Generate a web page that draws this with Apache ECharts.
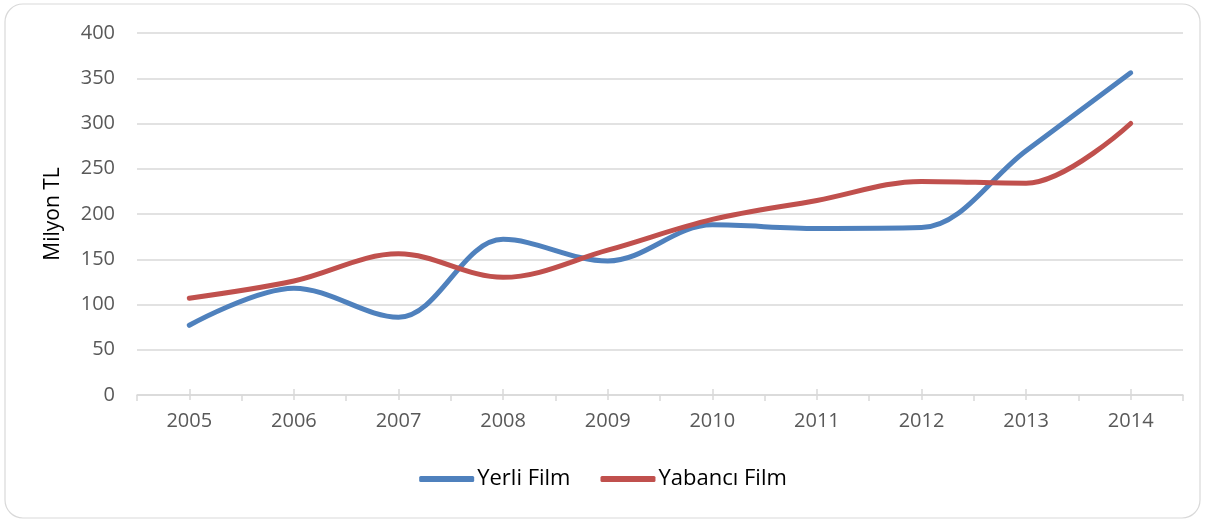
<html>
<head>
    <meta charset="utf-8" />
    <script src="https://cdn.jsdelivr.net/npm/echarts@6/dist/echarts.min.js"></script>
    <title>Yerli ve Yabancı Film</title>
    <style>
        body { margin: 0; background: #fff; }
        #chart { width: 1206px; height: 521px; }
    </style>
</head>
<body>
    <div id="chart"></div>
    <script type="text/javascript">
        var years = ['2005', '2006', '2007', '2008', '2009', '2010', '2011', '2012', '2013', '2014'];
        var yerliFilm = [77, 118, 86, 172, 148, 188, 184, 185, 270, 356];
        var yabanciFilm = [107, 126, 156, 130, 160, 194, 215, 236, 234, 300];
        var yTicks = [0, 50, 100, 150, 200, 250, 300, 350, 400];

        var font = '"Open Sans", "Liberation Sans", sans-serif';
        var chart = echarts.init(document.getElementById('chart'));
        var option = {
            textStyle: { fontFamily: font },
            graphic: [{
                type: 'rect',
                shape: { x: 5, y: 4, width: 1195, height: 514, r: 18 },
                style: { fill: 'none', stroke: '#d9d9d9', lineWidth: 1.2 },
                silent: true
            }],
            grid: { left: 137, right: 23, top: 33, bottom: 126 },
            legend: {
                bottom: 26,
                left: 'center',
                icon: 'roundRect',
                itemWidth: 55,
                itemHeight: 6,
                itemGap: 30,
                textStyle: { fontSize: 22, color: '#000', fontFamily: font, padding: [0, 0, 0, -2] },
                data: ['Yerli Film', 'Yabancı Film']
            },
            xAxis: [{
                type: 'category',
                data: years,
                boundaryGap: true,
                axisLine: { lineStyle: { color: '#d9d9d9', width: 1.5 } },
                axisTick: { show: true, interval: 0, length: 6, lineStyle: { color: '#d9d9d9', width: 1.5 } },
                axisLabel: { color: '#595959', fontSize: 20, margin: 16, fontFamily: font }
            }, {
                type: 'category',
                data: years,
                boundaryGap: true,
                position: 'bottom',
                offset: -6,
                axisLine: { show: false },
                axisTick: { show: true, alignWithLabel: true, interval: 0, length: 11, lineStyle: { color: '#d9d9d9', width: 1.5 } },
                axisLabel: { show: false }
            }],
            yAxis: {
                type: 'value',
                min: yTicks[0],
                max: yTicks[yTicks.length - 1],
                interval: 50,
                name: 'Milyon TL',
                nameLocation: 'middle',
                nameGap: 73,
                nameTextStyle: { fontSize: 21, color: '#000', fontFamily: font },
                axisLine: { show: false },
                axisTick: { show: false },
                axisLabel: { color: '#595959', fontSize: 20, margin: 22, fontFamily: font },
                splitLine: { lineStyle: { color: '#d9d9d9', width: 1.5 } }
            },
            series: [{
                name: 'Yerli Film',
                type: 'line',
                data: yerliFilm,
                smooth: 0.35,
                showSymbol: false,
                color: '#4f81bd',
                lineStyle: { width: 5, cap: 'round' }
            }, {
                name: 'Yabancı Film',
                type: 'line',
                data: yabanciFilm,
                smooth: 0.35,
                showSymbol: false,
                color: '#c0504d',
                lineStyle: { width: 5, cap: 'round' }
            }]
        };
        chart.setOption(option);
    </script>
</body>
</html>
